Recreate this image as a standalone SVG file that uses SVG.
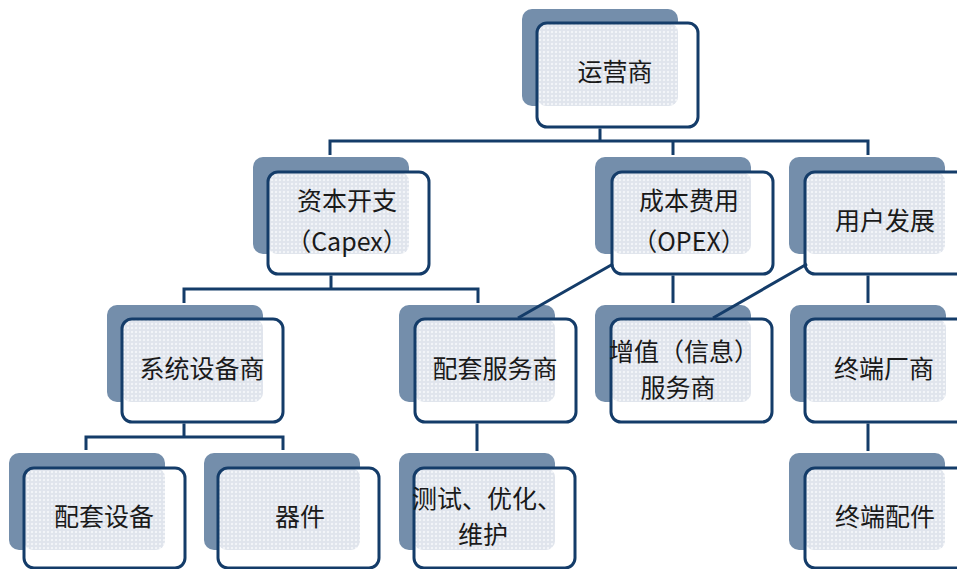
<svg xmlns="http://www.w3.org/2000/svg" width="957" height="569" viewBox="0 0 957 569">
<defs>
<pattern id="dots" width="4" height="4" patternUnits="userSpaceOnUse">
<rect width="4" height="4" fill="#f2f4f8"/>
<circle cx="2" cy="2" r="1.3" fill="none" stroke="#c2ccd9" stroke-width="0.6"/>
</pattern>
</defs>
<style>
.sh{fill:#748eab}
.fr{fill:#ffffff}
.pt{fill:url(#dots)}
.bd{fill:none;stroke:#143c69;stroke-width:3}
.t{font-family:"Noto Sans CJK SC","Liberation Sans",sans-serif;font-size:25px;fill:#1a1a1a;text-anchor:middle}
.c{fill:none;stroke:#143c69;stroke-width:3}
</style>
<rect width="957" height="569" fill="#ffffff"/>

<g id="n-yunyingshang">
<rect class="sh" x="522" y="9" width="156" height="97" rx="10"/>
<rect class="fr" x="537" y="23" width="161" height="104" rx="10"/>
<rect class="pt" x="537" y="23" width="141" height="83" rx="9"/>
<rect class="bd" x="537" y="23" width="161" height="104" rx="10"/>
<text class="t" x="615" y="81">运营商</text>
</g>

<g id="n-capex">
<rect class="sh" x="253" y="157" width="156" height="97" rx="10"/>
<rect class="fr" x="268" y="172" width="161" height="102" rx="10"/>
<rect class="pt" x="268" y="172" width="141" height="82" rx="9"/>
<rect class="bd" x="268" y="172" width="161" height="102" rx="10"/>
<text class="t"><tspan x="347" y="210">资本开支</tspan><tspan x="347" y="251">（Capex）</tspan></text>
</g>

<g id="n-opex">
<rect class="sh" x="595" y="157" width="156" height="97" rx="10"/>
<rect class="fr" x="612" y="172" width="161" height="102" rx="10"/>
<rect class="pt" x="612" y="172" width="139" height="82" rx="9"/>
<rect class="bd" x="612" y="172" width="161" height="102" rx="10"/>
<text class="t"><tspan x="689" y="210">成本费用</tspan><tspan x="689" y="251">（OPEX）</tspan></text>
</g>

<g id="n-yonghu">
<rect class="sh" x="789" y="157" width="156" height="97" rx="10"/>
<rect class="fr" x="805" y="172" width="161" height="102" rx="10"/>
<rect class="pt" x="805" y="172" width="140" height="82" rx="9"/>
<rect class="bd" x="805" y="172" width="161" height="102" rx="10"/>
<text class="t" x="885" y="230">用户发展</text>
</g>

<g id="n-xitong">
<rect class="sh" x="107" y="305" width="156" height="97" rx="10"/>
<rect class="fr" x="122" y="319" width="161" height="103" rx="10"/>
<rect class="pt" x="122" y="319" width="141" height="83" rx="9"/>
<rect class="bd" x="122" y="319" width="161" height="103" rx="10"/>
<text class="t" x="202" y="378">系统设备商</text>
</g>

<g id="n-peitaofuwu">
<rect class="sh" x="399" y="305" width="156" height="97" rx="10"/>
<rect class="fr" x="415" y="319" width="161" height="103" rx="10"/>
<rect class="pt" x="415" y="319" width="140" height="83" rx="9"/>
<rect class="bd" x="415" y="319" width="161" height="103" rx="10"/>
<text class="t" x="495" y="378">配套服务商</text>
</g>

<g id="n-zengzhi">
<rect class="sh" x="595" y="305" width="156" height="97" rx="10"/>
<rect class="fr" x="611" y="319" width="161" height="103" rx="10"/>
<rect class="pt" x="611" y="319" width="140" height="83" rx="9"/>
<rect class="bd" x="611" y="319" width="161" height="103" rx="10"/>
<text class="t"><tspan x="684" y="361">增值（信息）</tspan><tspan x="678" y="397">服务商</tspan></text>
</g>

<g id="n-zhongduan">
<rect class="sh" x="790" y="305" width="156" height="97" rx="10"/>
<rect class="fr" x="805" y="319" width="161" height="103" rx="10"/>
<rect class="pt" x="805" y="319" width="141" height="83" rx="9"/>
<rect class="bd" x="805" y="319" width="161" height="103" rx="10"/>
<text class="t" x="884" y="378">终端厂商</text>
</g>

<g id="n-peitaoshebei">
<rect class="sh" x="9" y="453" width="156" height="97" rx="10"/>
<rect class="fr" x="24" y="468" width="161" height="100" rx="10"/>
<rect class="pt" x="24" y="468" width="141" height="82" rx="9"/>
<rect class="bd" x="24" y="468" width="161" height="100" rx="10"/>
<text class="t" x="104" y="526">配套设备</text>
</g>

<g id="n-qijian">
<rect class="sh" x="204" y="453" width="156" height="97" rx="10"/>
<rect class="fr" x="218" y="468" width="161" height="100" rx="10"/>
<rect class="pt" x="218" y="468" width="142" height="82" rx="9"/>
<rect class="bd" x="218" y="468" width="161" height="100" rx="10"/>
<text class="t" x="300" y="526">器件</text>
</g>

<g id="n-ceshi">
<rect class="sh" x="399" y="453" width="156" height="97" rx="10"/>
<rect class="fr" x="414" y="468" width="161" height="100" rx="10"/>
<rect class="pt" x="414" y="468" width="141" height="82" rx="9"/>
<rect class="bd" x="414" y="468" width="161" height="100" rx="10"/>
<text class="t"><tspan x="487" y="508">测试、优化、</tspan><tspan x="483" y="544">维护</tspan></text>
</g>

<g id="n-zhongduanpeijian">
<rect class="sh" x="789" y="453" width="156" height="97" rx="10"/>
<rect class="fr" x="805" y="468" width="161" height="100" rx="10"/>
<rect class="pt" x="805" y="468" width="140" height="82" rx="9"/>
<rect class="bd" x="805" y="468" width="161" height="100" rx="10"/>
<text class="t" x="885" y="526">终端配件</text>
</g>

<g id="connectors">
<path class="c" d="M600 128.5V141M330 155V141H868V155M673 141V155"/>
<path class="c" d="M331 275.5V289M184 303V289H478V303"/>
<path class="c" d="M673 275.5V303M868 275.5V303"/>
<path class="c" d="M518 318L613 264M713 318L807 264"/>
<path class="c" d="M184 423.5V437M86 450V437H283V450"/>
<path class="c" d="M477 423.5V451M868 423.5V451"/>
</g>
</svg>
